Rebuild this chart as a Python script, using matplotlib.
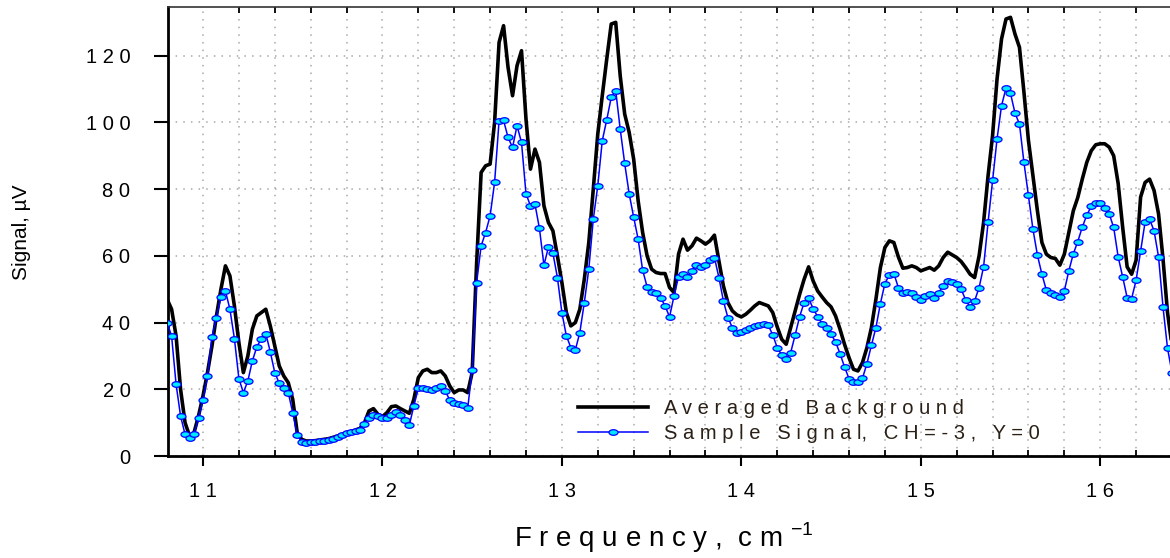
import numpy as np
import matplotlib
matplotlib.use('Agg')
import matplotlib.pyplot as plt
from matplotlib.ticker import MultipleLocator
from matplotlib.path import Path

# frequency grid (cm-1), one point every 0.025
freq = np.round(np.arange(10.8, 16.4001, 0.025), 3)

# Averaged Background (µV), rows of 0.2 cm-1
background = [
    47, 44, 36, 20, 10, 6, 7, 12,                      # 10.8
    18, 25, 33, 42, 50, 57, 54, 45,                    # 11.0
    34, 25, 30, 38, 42, 43, 44, 39,                    # 11.2
    33, 27, 24, 22, 17, 7, 5, 4.5,                     # 11.4
    4.5, 4.6, 4.8, 5, 5.2, 5.6, 6, 6.5,                # 11.6
    7, 7.3, 7.8, 8.3, 10, 13.5, 14.2, 12.5,            # 11.8
    11.8, 13, 14.8, 15, 14.2, 13.5, 12.8, 17,          # 12.0
    23.5, 25.5, 26, 25, 25, 25.5, 24, 21,              # 12.2
    19, 19.8, 19.8, 19, 25, 58, 85, 87,                # 12.4
    87.5, 100, 124, 129, 116.5, 108, 117, 121.5,       # 12.6
    101, 86, 92, 88, 75, 70, 67.5, 60,                 # 12.8
    52, 43, 39, 40, 44, 53, 64, 80,                    # 13.0
    96.5, 108, 119, 129.5, 130, 114, 102.5, 97,        # 13.2
    89, 76.5, 67, 60, 56, 55, 54.7, 54.7,              # 13.4
    50.5, 49, 60.5, 65, 61.7, 63, 65.3, 64.5,          # 13.6
    63.5, 64.5, 66.2, 58.5, 51, 46, 43.5, 42.3,        # 13.8
    41.7, 42.5, 43.7, 45, 46, 45.5, 45, 43,            # 14.0
    38.7, 35, 33.5, 38.5, 43.5, 48.5, 53, 56.7,        # 14.2
    52.5, 49.5, 47.7, 46, 44.7, 42, 38, 33.5,          # 14.4
    29.5, 26, 25.5, 28, 32.5, 38.5, 47, 56.5,          # 14.6
    62.5, 64.5, 64, 59.7, 56.3, 56.5, 57, 56.5,        # 14.8
    55.5, 56, 56.5, 55.7, 57, 59.5, 61.1, 60.3,        # 15.0
    59.5, 58.3, 56.5, 54.5, 53.5, 60, 70, 84,          # 15.2
    96, 113, 125, 131, 131.5, 126.5, 122.5, 109,       # 15.4
    94.6, 84, 73.5, 64, 60.5, 59.5, 59.2, 57.2,        # 15.6
    60.5, 67, 73.5, 77.5, 83, 88, 91.5, 93.3,          # 15.8
    93.6, 93.6, 92.6, 90, 81.7, 68.6, 56.7, 54.5,      # 16.0
    58.7, 77.6, 82, 83, 79.6, 72.6, 59, 43,            # 16.2
    33,                                                # 16.4
]

# Sample Signal, CH=-3, Y=0 (µV)
sample = [
    40, 36, 21.5, 12, 6.5, 5.4, 6.5, 11.5,             # 10.8
    16.7, 24, 35.7, 41.5, 47.7, 49.5, 44, 35.2,        # 11.0
    23.2, 19, 22.5, 28.5, 32.7, 35.2, 36.7, 31.2,      # 11.2
    25, 21.8, 20.5, 19, 13, 6.3, 4.2, 3.9,             # 11.4
    4.2, 4.3, 4.5, 4.6, 4.8, 5.2, 5.8, 6.3,            # 11.6
    6.8, 7.2, 7.5, 7.8, 9.5, 11.5, 12.3, 12,           # 11.8
    11.3, 11.3, 12.2, 13.3, 12.3, 10.8, 9.3, 15,       # 12.0
    20.3, 20.3, 20, 19.8, 20.3, 20.9, 19.5, 16.8,      # 12.2
    16, 15.7, 15.3, 14.3, 25.7, 52, 63, 67,            # 12.4
    72, 82, 100.5, 100.6, 95.5, 92.5, 99, 94,          # 12.6
    78.6, 75, 75.5, 68.2, 57.2, 62.6, 60.8, 53.5,      # 12.8
    43, 36, 32.5, 31.8, 37, 46, 56, 71,                # 13.0
    81, 94.5, 100.8, 107.5, 109.5, 98, 87.7, 78.6,     # 13.2
    71.6, 65, 55.7, 50.7, 49.2, 48.8, 47.5, 45,        # 13.4
    41.7, 48, 53.7, 54.6, 53.7, 55.5, 57.2, 56.8,      # 13.6
    57.3, 58.7, 59.5, 53.5, 46.5, 41.5, 38.5, 36.8,    # 13.8
    37.2, 37.8, 38.3, 38.9, 39.4, 39.7, 39.2, 36.3,    # 14.0
    32.5, 30.3, 29.1, 31, 36.3, 41.8, 46, 47.3,        # 14.2
    44.2, 41.8, 39.7, 38.3, 36.5, 34.2, 30.7, 26.7,    # 14.4
    23.2, 22.2, 22.2, 23.3, 27.7, 33.2, 38.5, 45.7,    # 14.6
    51.7, 54.3, 54.7, 50.5, 48.8, 49.2, 48.9, 47.7,    # 14.8
    46.7, 48, 48.5, 47.3, 49, 51, 52.5, 52.3,          # 15.0
    51.5, 50, 46.8, 44.6, 46.5, 50.5, 56.7, 70,        # 15.2
    82.6, 95, 105, 110.3, 108.7, 102.8, 99.5, 88,      # 15.4
    78.1, 68, 60.2, 54.5, 49.7, 48.9, 48.4, 47.7,      # 15.6
    49.5, 55.5, 60.6, 64.3, 68.6, 72.2, 74.8, 75.9,    # 15.8
    75.8, 74.3, 72.6, 68.5, 59.7, 53.7, 47.5, 47.2,    # 16.0
    52.7, 61.5, 70.1, 71, 67.5, 59.7, 44.6, 32.3,      # 16.2
    25,                                                # 16.4
]

series_labels = ["A v e r a g e d   B a c k g r o u n d",
                 "S a m p l e   S i g n a l,   C H = - 3 ,   Y = 0"]
x_ticks = [11, 12, 13, 14, 15, 16]
x_tick_labels = ["1 1", "1 2", "1 3", "1 4", "1 5", "1 6"]
y_ticks = [0, 20, 40, 60, 80, 100, 120]
y_tick_labels = ["0", "2 0", "4 0", "6 0", "8 0", "1 0 0", "1 2 0"]

plt.rcParams['font.family'] = ['Liberation Sans', 'DejaVu Sans']
plt.rcParams['mathtext.fontset'] = 'custom'
plt.rcParams['mathtext.rm'] = 'Liberation Sans'

# flat ellipse marker like the original plotting program
t = np.linspace(0, 2 * np.pi, 25)
ellipse = Path(np.column_stack([np.cos(t), 0.62 * np.sin(t)]), closed=True)

W, H = 1170, 558
fig = plt.figure(figsize=(W / 100, H / 100), dpi=100)
ax = fig.add_axes([168 / W, 1 - 456 / H, (1172 - 168) / W, (456 - 7) / H])

ax.plot(freq, background, color='black', lw=2.6, label=series_labels[0], zorder=3)
ax.plot(freq, sample, color='#0000ff', lw=1.1, marker=ellipse, ms=6.5,
        mfc='#00e8ff', mec='#0000ff', mew=0.9, label=series_labels[1], zorder=4)

ax.set_xlim(10.805, 16.40)
ax.set_ylim(0, 134.6)

# ticks
ax.set_xticks(x_ticks)
ax.set_xticklabels(x_tick_labels)
ax.xaxis.set_minor_locator(MultipleLocator(0.2))
ax.set_yticks(y_ticks)
ax.set_yticklabels(y_tick_labels)
ax.tick_params(axis='x', which='major', direction='out', length=7, width=1.5,
               top=False, bottom=True, pad=12, labelsize=14.5)
ax.tick_params(axis='x', which='minor', direction='in', length=4, width=1.3,
               top=True, bottom=True)
ax.tick_params(axis='y', which='major', direction='out', length=10, width=1.5,
               right=False, pad=17, labelsize=14.5)

# dotted grid
ax.grid(which='both', axis='x', color='#a8a8a8', linestyle=(0, (1, 4)), lw=1.1)
ax.grid(which='major', axis='y', color='#a8a8a8', linestyle=(0, (1, 4)), lw=1.1)
ax.set_axisbelow(True)

for side in ['left', 'bottom']:
    ax.spines[side].set_linewidth(2)
ax.spines['top'].set_linewidth(1.2)
ax.spines['top'].set_color('#333333')
ax.spines['right'].set_visible(False)

leg = ax.legend(loc='center left', bbox_to_anchor=(578 / W, 1 - 421 / H),
                bbox_transform=fig.transFigure, frameon=False, fontsize=14.5,
                handlelength=3.5, handletextpad=0.75, labelspacing=0.32,
                borderpad=0, borderaxespad=0)
for txt in leg.get_texts():
    txt.set_color('#2a2016')

fig.text(22 / W, 1 - 232 / H, 'Signal, µV', rotation=90, fontsize=15,
         ha='center', va='center')
fig.text(664 / W, 1 - 538 / H, r'F r e q u e n c y ,  c m $^{\mathregular{- 1}}$',
         fontsize=20, ha='center', va='center')

fig.savefig('out.png', dpi=100)
